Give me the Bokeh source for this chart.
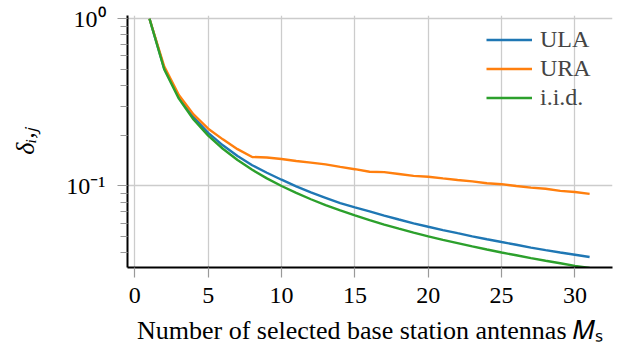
from bokeh.plotting import figure
from bokeh.models import Range1d, FixedTicker, CustomJSTickFormatter
from bokeh.embed import file_html
from bokeh.resources import INLINE

# ---- data ----
M = list(range(1, 32))
ula = [1.0, 0.505, 0.34, 0.258, 0.208, 0.175, 0.151, 0.133, 0.12, 0.109,
       0.0995, 0.0915, 0.085, 0.079, 0.0745, 0.0705, 0.0665, 0.063, 0.0598, 0.057,
       0.0545, 0.0522, 0.05, 0.048, 0.0462, 0.0445, 0.0428, 0.0413, 0.04, 0.0388, 0.0376]
ura = [1.0, 0.52, 0.35, 0.268, 0.22, 0.19, 0.166, 0.149, 0.148, 0.145,
       0.141, 0.138, 0.1346, 0.13, 0.126, 0.1217, 0.121, 0.118, 0.115, 0.1136,
       0.111, 0.1086, 0.1065, 0.1038, 0.1025, 0.1, 0.0977, 0.0963, 0.0935, 0.092, 0.0897]
iid = [1.0, 0.5, 0.333, 0.25, 0.2, 0.167, 0.143, 0.125, 0.111, 0.1,
       0.0909, 0.0833, 0.0769, 0.0714, 0.0667, 0.0625, 0.0588, 0.0556, 0.0526, 0.05,
       0.0476, 0.0455, 0.0435, 0.0417, 0.04, 0.0385, 0.037, 0.0357, 0.0345, 0.0333, 0.0323]
series_names = ["ULA", "URA", "i.i.d."]
x_ticks = [0, 5, 10, 15, 20, 25, 30]
y_ticks = [0.1, 1]
y_minor_ticks = [0.04, 0.05, 0.06, 0.07, 0.08, 0.09, 0.2, 0.3, 0.4, 0.5, 0.6, 0.7, 0.8, 0.9]
x_label = "Number of selected base station antennas \U0001D440\u209B"
y_label = "\u03b4\u1D62,\u2C7C"

FONT = "Liberation Serif"
colors = ["#1f77b4", "#ff7f0e", "#2ca02c"]

p = figure(width=617, height=351, y_axis_type="log",
           x_range=Range1d(-0.5, 32.56), y_range=Range1d(0.03254, 1.046),
           output_backend="svg", toolbar_location=None,
           min_border_left=127, min_border_right=5, min_border_top=15, min_border_bottom=84)
p.outline_line_color = None
p.background_fill_color = "white"

for ys, name, c in zip([ula, ura, iid], series_names, colors):
    p.line(M, ys, line_color=c, line_width=2.4, legend_label=name)

# axes
p.xaxis.ticker = FixedTicker(ticks=x_ticks)
p.yaxis.ticker = FixedTicker(ticks=y_ticks, minor_ticks=y_minor_ticks)
p.yaxis.formatter = CustomJSTickFormatter(code="""
const e = Math.round(Math.log10(tick));
const sup = {"-": "\u207b", "0": "\u2070", "1": "\u00b9", "2": "\u00b2", "3": "\u00b3"};
return "10" + String(e).split("").map(ch => sup[ch] || ch).join("");
""")
for ax in [p.xaxis[0], p.yaxis[0]]:
    ax.axis_line_color = "black"
    ax.axis_line_width = 2
    ax.major_tick_line_color = "#999999"
    ax.major_tick_line_width = 1.2
    ax.major_tick_out = 10
    ax.major_tick_in = 0
    ax.major_label_text_font = FONT
    ax.major_label_text_font_size = "24px"
    ax.major_label_text_color = "black"
    ax.axis_label_text_font = FONT
    ax.axis_label_text_font_size = "26px"
    ax.axis_label_text_color = "black"
p.xaxis.minor_tick_line_color = None
p.yaxis.minor_tick_line_color = "#999999"
p.yaxis.minor_tick_line_width = 1.2
p.yaxis.minor_tick_out = 7
p.yaxis.minor_tick_in = 0
p.xaxis.major_label_standoff = 10
p.yaxis.major_label_standoff = 12

p.xaxis.axis_label = x_label
p.xaxis.axis_label_text_font_style = "normal"
p.xaxis.axis_label_standoff = 10
p.yaxis.axis_label = y_label
p.yaxis.axis_label_text_font_style = "italic"
p.yaxis.axis_label_standoff = 23

p.xgrid.ticker = FixedTicker(ticks=x_ticks)
p.ygrid.ticker = FixedTicker(ticks=y_ticks)
for g in [p.xgrid[0], p.ygrid[0]]:
    g.grid_line_color = "#cccccc"
    g.grid_line_width = 1.3

# legend
lg = p.legend[0]
lg.location = (359, 155)
lg.border_line_color = None
lg.background_fill_alpha = 0
lg.label_text_font = FONT
lg.label_text_font_size = "24px"
lg.glyph_width = 46
lg.glyph_height = 29
lg.label_height = 29
lg.label_standoff = 8
lg.spacing = 0
lg.padding = 0
lg.margin = 0

open("out.html", "w").write(file_html(p, INLINE))
